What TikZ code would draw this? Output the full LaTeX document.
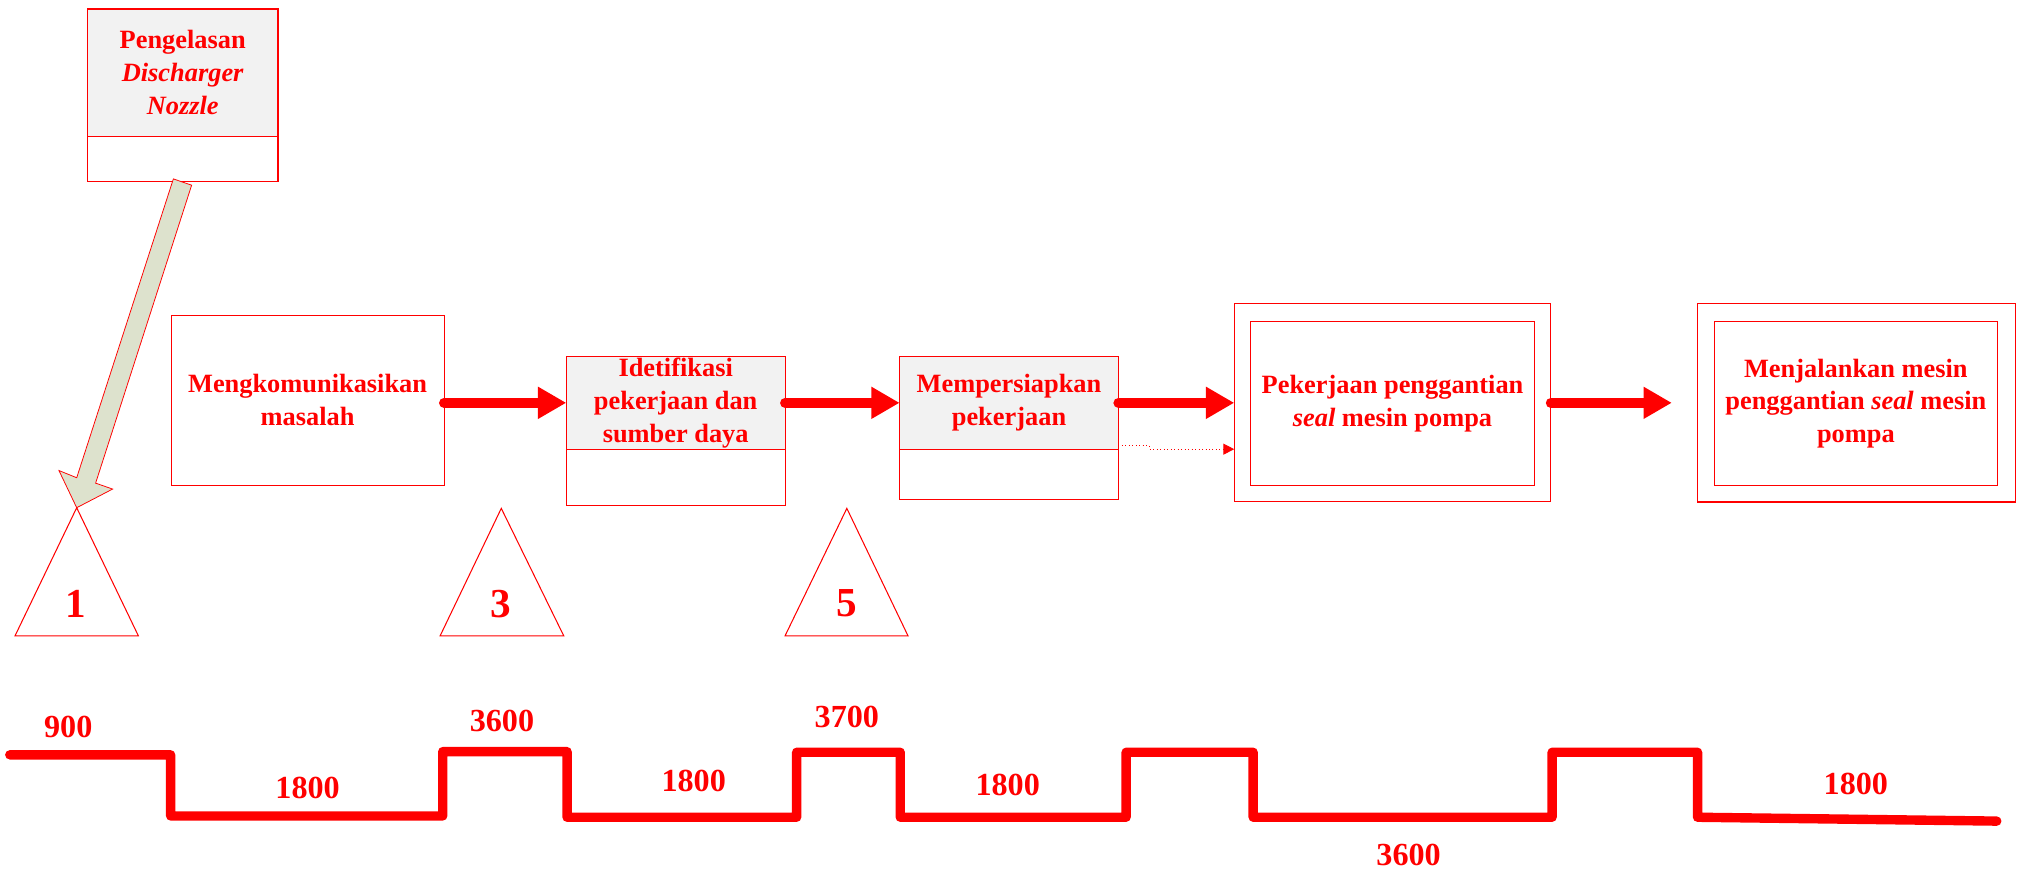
\documentclass[tikz,border=0pt]{standalone}
\usepackage{fontspec}
\setmainfont{Liberation Serif}
\usetikzlibrary{arrows.meta}
\definecolor{boxgrey}{RGB}{242,242,242}
\definecolor{olivefill}{RGB}{221,226,205}

\begin{document}
\begin{tikzpicture}[x=1pt,y=-1pt,
  every node/.style={inner sep=0pt, outer sep=0pt},
  frame/.style={draw=red, line width=0.8pt},
  boxtext/.style={text=red, font=\fontsize{20.5}{25.5}\selectfont\bfseries, align=center},
  greybox/.style={frame, fill=boxgrey, anchor=north west, boxtext},
  plainbox/.style={frame, fill=white, anchor=north west, boxtext},
  flow/.style={red, line width=7.8pt, line cap=round, -{Triangle[length=22pt,width=23.5pt]}},
  dotflow/.style={red, dotted, line width=0.7pt, -{Triangle[length=8.5pt,width=8.6pt]}},
  milestone/.style={frame, fill=white},
  msnum/.style={text=red, font=\fontsize{32}{32}\selectfont\bfseries},
  pulse/.style={red, line width=7.3pt, line cap=round, line join=round},
  dur/.style={text=red, font=\fontsize{25}{25}\selectfont\bfseries}
]
\useasboundingbox (0,0) rectangle (1568,677);

% welding task (top left)
\node[greybox, minimum width=148pt, minimum height=99pt] (pg) at (68,7)
  {Pengelasan\\\textit{Discharger}\\\textit{Nozzle}};
\node[plainbox, minimum width=148pt, minimum height=35pt] (pgb) at (68,106) {};

% block arrow from the welding task to milestone 1
\coordinate (tip) at (59.6,394.5);
\draw[red, line width=0.6pt, fill=olivefill, line join=miter]
  (134.7,139) -- (59.6,371.2) -- (45.8,365.6) -- (tip) -- (87.5,380.0)
  -- (74.3,375.4) -- (148.9,143.9) -- cycle;

% process boxes
\node[plainbox, minimum width=212pt, minimum height=132pt] (mk) at (133,245)
  {Mengkomunikasikan\\masalah};

\node[greybox, minimum width=170pt, minimum height=72pt] (idt) at (440,277)
  {Idetifikasi\\pekerjaan dan\\sumber daya};
\node[plainbox, minimum width=170pt, minimum height=44pt] (idb) at (440,349) {};

\node[greybox, minimum width=170pt, minimum height=72pt] (mpt) at (699,277)
  {Mempersiapkan\\pekerjaan};
\node[plainbox, minimum width=170pt, minimum height=39pt] (mpb) at (699,349) {};

\node[plainbox, minimum width=246pt, minimum height=154pt] (pko) at (959,236) {};
\node[plainbox, minimum width=220pt, minimum height=127pt] (pki) at (972,250)
  {Pekerjaan penggantian\\\textit{seal} mesin pompa};

\node[plainbox, line width=1pt, minimum width=247pt, minimum height=154pt] (mjo) at (1319,236) {};
\node[plainbox, minimum width=220pt, minimum height=127pt] (mji) at (1332,250)
  {Menjalankan mesin\\penggantian \textit{seal} mesin\\pompa};

% flow arrows
\coordinate (lastend) at (1299,313);
\draw[flow] (mk.east |- idt.west) -- (idt.west);
\draw[flow] (idt.east) -- (mpt.west);
\draw[flow] (mpt.east) -- (pko.west);
\draw[flow] (pko.east) -- (lastend);
\draw[dotflow] ([yshift=2.5pt]mpt.south east) -- ++(24,0) |- (pko.west |- mpt.south east);

% milestones
\draw[milestone] (tip) -- (11.7,494) -- (107.5,494) -- cycle;
\node[msnum] (m1) at (59,469) {1};
\draw[milestone] (389.5,395) -- (342,494) -- (438,494) -- cycle;
\node[msnum] (m3) at (389.5,469) {3};
\draw[milestone] (658,395) -- (610,494) -- (705.5,494) -- cycle;
\node[msnum] (m5) at (658,469) {5};

% time line
\draw[pulse] (7.6,586.5) -- (132.6,586.5) -- (132.6,634) -- (344,634) -- (344,584)
  -- (440.6,584) -- (440.6,635) -- (619,635) -- (619,584.5) -- (699.5,584.5)
  -- (699.5,635) -- (875,635) -- (875,584.5) -- (973.7,584.5) -- (973.7,635)
  -- (1206,635) -- (1206,584.5) -- (1319,584.5) -- (1319,635) -- (1551.5,638);

% durations
\node[dur] (d1) at (53,565) {900};
\node[dur] (d2) at (239,612) {1800};
\node[dur] (d3) at (390,560) {3600};
\node[dur] (d4) at (539,607) {1800};
\node[dur] (d5) at (658,557) {3700};
\node[dur] (d6) at (783,610) {1800};
\node[dur] (d7) at (1094.5,664) {3600};
\node[dur] (d8) at (1442,609) {1800};
\end{tikzpicture}
\end{document}
